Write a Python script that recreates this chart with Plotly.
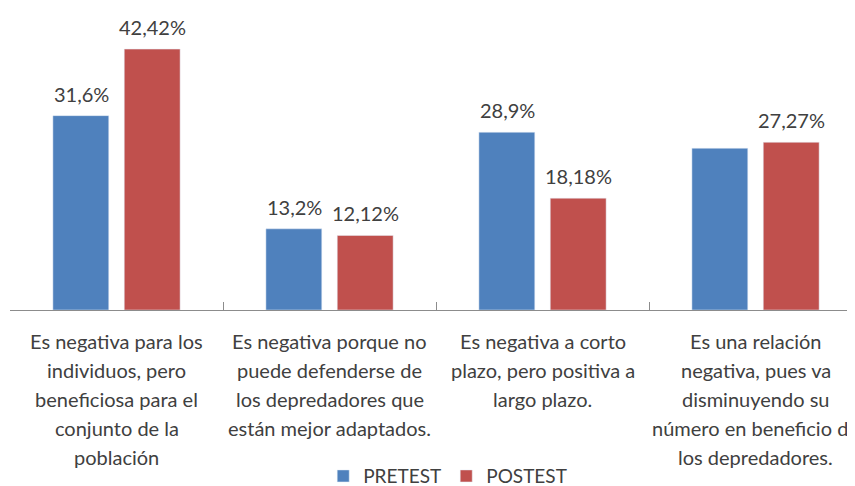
import plotly.graph_objects as go

# categories, each answer split into the lines used in the original
categories = ["A", "B", "C", "D"]
category_lines = [
    ["Es negativa para los", "individuos, pero", "beneficiosa para el", "conjunto de la", "población"],
    ["Es negativa porque no", "puede defenderse de", "los depredadores que", "están mejor adaptados."],
    ["Es negativa a corto", "plazo, pero positiva a", "largo plazo."],
    ["Es una relación", "negativa, pues va", "disminuyendo su", "número en beneficio de", "los depredadores."],
]
pretest = [31.6, 13.2, 28.9, 26.3]
postest = [42.42, 12.12, 18.18, 27.27]
pretest_labels = ["31,6%", "13,2%", "28,9%", ""]
postest_labels = ["42,42%", "12,12%", "18,18%", "27,27%"]

font = "Lato"
txt = "#404040"

fig = go.Figure()
fig.add_trace(go.Bar(x=categories, y=pretest, name="PRETEST", marker_color="#4F81BD"))
fig.add_trace(go.Bar(x=categories, y=postest, name="POSTEST", marker_color="#C0504D"))

# value labels above the bars
for labels, values, shift in [(pretest_labels, pretest, -35.5), (postest_labels, postest, 35.5)]:
    for cat, val, lab in zip(categories, values, labels):
        if lab:
            fig.add_annotation(x=cat, y=val, text=lab, showarrow=False, xshift=shift,
                               yshift=8, yanchor="bottom",
                               font=dict(size=20, color=txt, family=font))

# category labels under the axis, one annotation per line
for cat, lines in zip(categories, category_lines):
    for k, line in enumerate(lines):
        fig.add_annotation(x=cat, y=0, text=line, showarrow=False, yanchor="middle",
                           yshift=-(31 + 29 * k),
                           font=dict(size=20, color=txt, family=font))

# page body has an 8px margin, so the figure is a bit smaller than the window
fig.update_layout(
    width=847, height=478,
    margin=dict(l=2, r=0, t=0, b=176, autoexpand=False),
    paper_bgcolor="white", plot_bgcolor="white",
    barmode="group", bargap=0.33, bargroupgap=0.217,
    font=dict(family=font, size=19, color=txt),
    showlegend=True,
    legend=dict(orientation="h", x=0.518, xanchor="center", y=-0.55, yanchor="middle",
                font=dict(size=19, color=txt, family=font), itemwidth=30,
                traceorder="normal"),
)
fig.update_xaxes(range=[-0.5, 3.467], showline=True, linecolor="#8c8c8c", linewidth=1,
                 ticks="inside", tickson="boundaries", ticklen=8, tickcolor="#8c8c8c",
                 showgrid=False, showticklabels=False)
fig.update_yaxes(range=[0, 49.1], visible=False, showgrid=False)

fig.write_html("out.html")
